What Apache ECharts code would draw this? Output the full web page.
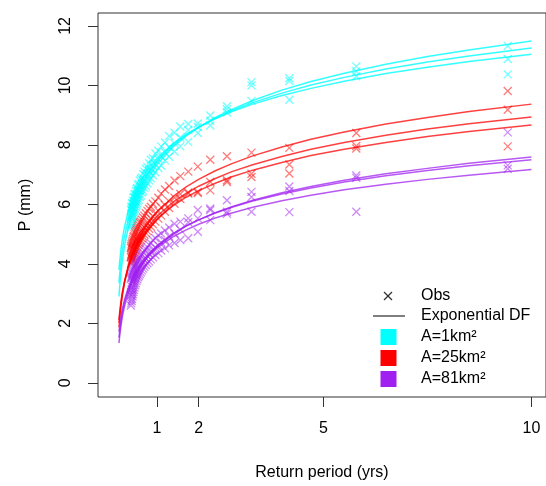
<!DOCTYPE html>
<html>
<head>
<meta charset="utf-8">
<script src="https://cdn.jsdelivr.net/npm/echarts@6/dist/echarts.min.js"></script>
<style>
  html, body { margin: 0; padding: 0; background: #fff; }
  #chart { width: 546px; height: 486px; }
</style>
</head>
<body>
<div id="chart"></div>
<script>
// return period (yrs) of each ranked observation, shared by all samples
const obsX = [9.43, 5.79, 4.18, 3.27, 2.68, 2.28, 1.98, 1.75, 1.56, 1.42,
  1.29, 1.19, 1.10, 1.03, 0.96, 0.90, 0.85, 0.81, 0.77, 0.73,
  0.695, 0.664, 0.636, 0.610, 0.586, 0.564, 0.544, 0.525, 0.507, 0.490,
  0.475, 0.460, 0.447, 0.434, 0.421, 0.410, 0.399, 0.389, 0.379, 0.370]

// observed P (mm), three samples per area
const cyanObs1 = [11.33, 10.64, 10.24, 10.11, 9.30, 8.99, 8.72, 8.70, 8.62, 8.41,
  8.30, 8.08, 7.95, 7.80, 7.71, 7.55, 7.50, 7.38, 7.25, 7.20,
  7.10, 7.02, 6.90, 6.86, 6.80, 6.69, 6.65, 6.55, 6.52, 6.45,
  6.36, 6.33, 6.25, 6.22, 6.12, 6.05, 6.02, 5.93, 5.90, 5.82]
const cyanObs2 = [10.89, 10.47, 10.15, 10.00, 9.20, 8.81, 8.60, 8.50, 8.25, 8.05,
  7.92, 7.75, 7.62, 7.52, 7.36, 7.30, 7.18, 7.12, 7.01, 6.95,
  6.82, 6.78, 6.70, 6.60, 6.56, 6.48, 6.44, 6.35, 6.30, 6.24,
  6.20, 6.12, 6.06, 6.00, 5.92, 5.86, 5.78, 5.70, 5.62, 5.55]
const cyanObs3 = [10.37, 10.31, 9.52, 9.48, 9.09, 8.65, 8.40, 8.10, 7.95, 7.78,
  7.60, 7.48, 7.30, 7.22, 7.08, 6.98, 6.88, 6.80, 6.70, 6.62,
  6.55, 6.45, 6.40, 6.30, 6.25, 6.16, 6.10, 6.04, 5.98, 5.92,
  5.85, 5.78, 5.72, 5.64, 5.58, 5.50, 5.42, 5.35, 5.28, 5.20]

const redObs1 = [9.81, 8.40, 7.90, 7.74, 7.62, 7.50, 7.27, 7.10, 6.95, 6.80,
  6.62, 6.50, 6.36, 6.22, 6.10, 6.02, 5.92, 5.85, 5.78, 5.70,
  5.62, 5.56, 5.48, 5.42, 5.38, 5.32, 5.26, 5.20, 5.15, 5.10,
  5.05, 5.00, 4.94, 4.90, 4.84, 4.78, 4.72, 4.66, 4.60, 4.54]
const redObs2 = [9.18, 7.96, 7.34, 7.03, 6.81, 6.75, 6.42, 6.40, 6.35, 6.22,
  6.10, 5.98, 5.90, 5.78, 5.70, 5.60, 5.52, 5.45, 5.36, 5.30,
  5.22, 5.16, 5.10, 5.05, 4.98, 4.92, 4.88, 4.82, 4.78, 4.72,
  4.68, 4.62, 4.58, 4.52, 4.48, 4.42, 4.38, 4.32, 4.28, 4.22]
const redObs3 = [7.95, 7.88, 7.04, 6.92, 6.75, 6.47, 6.38, 6.36, 6.18, 6.02,
  5.88, 5.75, 5.62, 5.52, 5.42, 5.33, 5.25, 5.18, 5.10, 5.04,
  4.98, 4.92, 4.86, 4.80, 4.75, 4.70, 4.64, 4.58, 4.54, 4.48,
  4.44, 4.38, 4.33, 4.28, 4.23, 4.18, 4.14, 4.10, 4.05, 4.00]

const purpleObs1 = [8.42, 6.97, 6.60, 6.42, 6.14, 5.86, 5.81, 5.53, 5.42, 5.35,
  5.22, 5.12, 5.02, 4.96, 4.86, 4.80, 4.70, 4.64, 4.56, 4.50,
  4.45, 4.38, 4.32, 4.28, 4.22, 4.18, 4.12, 4.08, 4.02, 3.98,
  3.94, 3.90, 3.85, 3.80, 3.76, 3.70, 3.66, 3.60, 3.55, 3.50]
const purpleObs2 = [7.31, 6.89, 6.45, 6.25, 5.75, 5.81, 5.53, 5.40, 5.15, 5.02,
  4.92, 4.80, 4.72, 4.62, 4.55, 4.46, 4.40, 4.32, 4.26, 4.18,
  4.14, 4.06, 4.02, 3.96, 3.92, 3.86, 3.82, 3.76, 3.72, 3.66,
  3.62, 3.56, 3.50, 3.44, 3.38, 3.30, 3.22, 3.14, 3.05, 2.95]
const purpleObs3 = [7.20, 5.75, 5.74, 5.75, 5.68, 5.47, 5.08, 4.86, 4.80, 4.70,
  4.62, 4.52, 4.45, 4.36, 4.30, 4.22, 4.15, 4.08, 4.02, 3.96,
  3.90, 3.84, 3.78, 3.72, 3.66, 3.60, 3.55, 3.48, 3.42, 3.35,
  3.28, 3.20, 3.12, 3.05, 2.98, 2.90, 2.82, 2.75, 2.68, 2.60]

// fitted exponential DF curves, read at these return periods
const curveX = [0.085, 0.1, 0.13, 0.17, 0.22, 0.3, 0.4, 0.55, 0.75, 1, 1.4, 1.7, 2, 2.4, 2.8, 3.3, 4, 4.7, 5.5, 6.5, 7.5, 8.5, 10]
const cyanFit1 = [2.90, 3.20, 3.67, 4.15, 4.62, 5.17, 5.69, 6.26, 6.82, 7.34, 7.95, 8.30, 8.59, 8.92, 9.19, 9.49, 9.84, 10.13, 10.41, 10.71, 10.97, 11.19, 11.49]
const cyanFit2 = [3.35, 3.62, 4.05, 4.50, 4.93, 5.44, 5.92, 6.45, 6.96, 7.44, 8.00, 8.32, 8.59, 8.89, 9.15, 9.42, 9.74, 10.01, 10.27, 10.55, 10.79, 10.99, 11.26]
const cyanFit3 = [3.80, 4.05, 4.45, 4.86, 5.25, 5.72, 6.16, 6.64, 7.11, 7.55, 8.06, 8.36, 8.60, 8.88, 9.12, 9.37, 9.66, 9.90, 10.14, 10.40, 10.61, 10.80, 11.05]
const redFit1 = [1.87, 2.13, 2.54, 2.96, 3.37, 3.86, 4.31, 4.81, 5.30, 5.75, 6.28, 6.59, 6.84, 7.13, 7.37, 7.63, 7.93, 8.19, 8.43, 8.70, 8.92, 9.12, 9.37]
const redFit2 = [2.02, 2.26, 2.64, 3.03, 3.40, 3.85, 4.27, 4.73, 5.18, 5.60, 6.09, 6.37, 6.61, 6.87, 7.10, 7.33, 7.61, 7.85, 8.08, 8.32, 8.53, 8.71, 8.94]
const redFit3 = [2.12, 2.35, 2.71, 3.08, 3.43, 3.86, 4.25, 4.69, 5.11, 5.51, 5.97, 6.24, 6.46, 6.71, 6.93, 7.15, 7.41, 7.64, 7.85, 8.08, 8.28, 8.45, 8.67]
const purpleFit1 = [1.34, 1.55, 1.89, 2.25, 2.58, 2.99, 3.37, 3.79, 4.19, 4.57, 5.01, 5.27, 5.48, 5.72, 5.92, 6.14, 6.39, 6.60, 6.81, 7.03, 7.21, 7.38, 7.59]
const purpleFit2 = [1.52, 1.72, 2.05, 2.39, 2.71, 3.10, 3.46, 3.86, 4.25, 4.61, 5.03, 5.28, 5.48, 5.71, 5.90, 6.11, 6.35, 6.55, 6.75, 6.96, 7.14, 7.30, 7.50]
const purpleFit3 = [1.72, 1.90, 2.20, 2.51, 2.80, 3.16, 3.49, 3.85, 4.21, 4.54, 4.92, 5.14, 5.33, 5.54, 5.71, 5.90, 6.12, 6.31, 6.49, 6.68, 6.84, 6.98, 7.17]

const xTicks = [1, 2, 5, 10]
const yTicks = [0, 2, 4, 6, 8, 10, 12]
const areaLabels = ['A=1km²', 'A=25km²', 'A=81km²']

const FONT = '"Liberation Sans", Arial, sans-serif'
const crossPath = 'path://M0,0L10,10M10,0L0,10'

function obsSeries(ys, color) {
  return {
    type: 'scatter',
    data: obsX.map((x, i) => [x, ys[i]]),
    symbol: crossPath,
    symbolSize: 8,
    itemStyle: { color: 'transparent', borderColor: color, borderWidth: 1.3 },
    silent: true,
    z: 2,
  }
}

function fitSeries(ys, color) {
  return {
    type: 'line',
    data: curveX.map((x, i) => [x, ys[i]]),
    showSymbol: false,
    smooth: false,
    lineStyle: { color, width: 1.5 },
    silent: true,
    z: 3,
  }
}

// legend drawn by hand, R style
const legendColors = ['#00FFFF', '#FF0000', '#A020F0']
const legendRows = [296, 316, 337, 358, 379]
const legend = [
  { type: 'line', shape: { x1: 384, y1: 292, x2: 392, y2: 300 }, style: { stroke: '#333', lineWidth: 1.2 } },
  { type: 'line', shape: { x1: 392, y1: 292, x2: 384, y2: 300 }, style: { stroke: '#333', lineWidth: 1.2 } },
  { type: 'line', shape: { x1: 373, y1: 316, x2: 405, y2: 316 }, style: { stroke: '#555', lineWidth: 1.5 } },
]
const legendTexts = ['Obs', 'Exponential DF'].concat(areaLabels)
legendTexts.forEach((t, i) => {
  legend.push({ type: 'text', x: 421, y: legendRows[i],
    style: { text: t, font: '16px ' + FONT, fill: '#000', verticalAlign: 'middle' } })
})
legendColors.forEach((c, i) => {
  legend.push({ type: 'rect', shape: { x: 380.5, y: legendRows[i + 2] - 8, width: 16, height: 16 },
    style: { fill: c } })
})

const CYAN = 'rgba(0,255,255,0.7)'
const RED = 'rgba(255,0,0,0.65)'
const PURPLE = 'rgba(160,32,240,0.65)'
const CYAN_L = 'rgba(0,255,255,0.8)'
const RED_L = 'rgba(255,0,0,0.75)'
const PURPLE_L = 'rgba(160,32,240,0.75)'

const chart = echarts.init(document.getElementById('chart'))
chart.setOption({
  animation: false,
  backgroundColor: '#fff',
  grid: { left: 98, top: 13, width: 450, height: 387, show: true, borderColor: '#333', borderWidth: 1 },
  xAxis: {
    type: 'value',
    min: -0.419,
    max: 10.35,
    name: 'Return period (yrs)',
    nameLocation: 'middle',
    nameGap: 68,
    nameTextStyle: { fontSize: 16, color: '#000', fontFamily: FONT },
    axisLine: { show: false, onZero: false },
    axisTick: { customValues: xTicks, length: 10, lineStyle: { color: '#333' } },
    axisLabel: { customValues: xTicks, margin: 24, fontSize: 16, color: '#000', fontFamily: FONT },
    splitLine: { show: false },
  },
  yAxis: {
    type: 'value',
    min: -0.477,
    max: 12.434,
    name: 'P (mm)',
    nameLocation: 'middle',
    nameRotate: 90,
    nameGap: 64,
    nameTextStyle: { fontSize: 16, color: '#000', fontFamily: FONT },
    axisLine: { show: false, onZero: false },
    axisTick: { customValues: yTicks, length: 10, lineStyle: { color: '#333' } },
    axisLabel: { customValues: yTicks, rotate: 90, margin: 24, fontSize: 16, color: '#000', fontFamily: FONT },
    splitLine: { show: false },
  },
  graphic: legend,
  series: [
    obsSeries(cyanObs1, CYAN), obsSeries(cyanObs2, CYAN), obsSeries(cyanObs3, CYAN),
    obsSeries(redObs1, RED), obsSeries(redObs2, RED), obsSeries(redObs3, RED),
    obsSeries(purpleObs1, PURPLE), obsSeries(purpleObs2, PURPLE), obsSeries(purpleObs3, PURPLE),
    fitSeries(cyanFit1, CYAN_L), fitSeries(cyanFit2, CYAN_L), fitSeries(cyanFit3, CYAN_L),
    fitSeries(redFit1, RED_L), fitSeries(redFit2, RED_L), fitSeries(redFit3, RED_L),
    fitSeries(purpleFit1, PURPLE_L), fitSeries(purpleFit2, PURPLE_L), fitSeries(purpleFit3, PURPLE_L),
  ],
})
</script>
</body>
</html>
